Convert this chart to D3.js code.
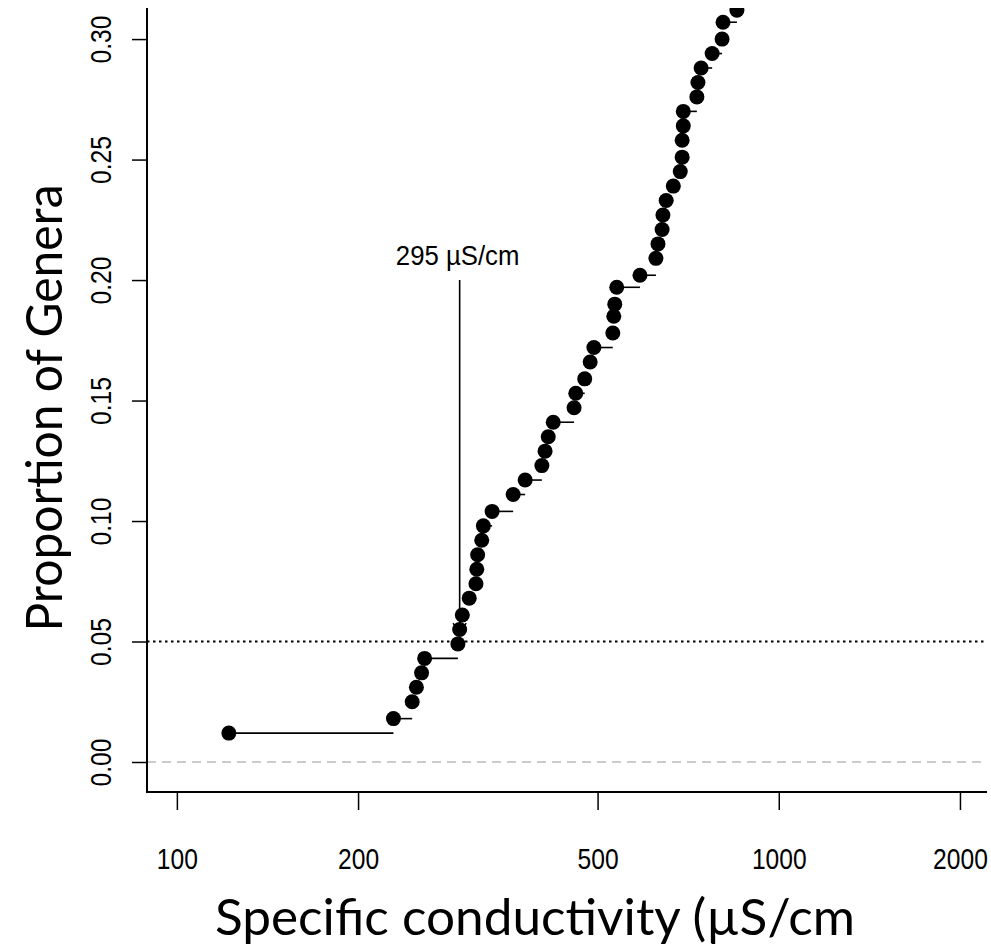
<!DOCTYPE html>
<html lang="en">
	<head>
		<meta charset="utf-8">
		<title>D3: Proportion of genera vs conductivity</title>
		<script type="text/javascript" src="https://cdn.jsdelivr.net/npm/d3@7"></script>
		<style type="text/css">
			body { margin: 0; background: #fff; }
		</style>
	</head>
	<body>
		<script type="text/javascript">

			//Width and height
			var w = 991;
			var h = 947;

			//Plot region (R style, 4% padding built into domains)
			var pLeft = 147, pRight = 987, pTop = 8, pBottom = 792;

			//Specific conductivity for each genus (uS/cm)
			var conductivity = [122, 229, 246, 250, 255, 258, 293, 295, 298, 306,
			                    314, 315, 316, 321, 323, 334, 362, 379, 404, 409,
			                    414, 422, 457, 460, 476, 486, 493, 530, 532, 534,
			                    538, 588, 625, 630, 640, 642, 650, 668, 686, 691,
			                    691, 694, 694, 731, 734, 743, 775, 805, 808, 852];

			//Cumulative proportion of genera
			var proportion = [0.012, 0.018, 0.025, 0.031, 0.037, 0.043, 0.049, 0.055, 0.061, 0.068,
			                  0.074, 0.080, 0.086, 0.092, 0.098, 0.104, 0.111, 0.117, 0.123, 0.129,
			                  0.135, 0.141, 0.147, 0.153, 0.159, 0.166, 0.172, 0.178, 0.185, 0.190,
			                  0.197, 0.202, 0.209, 0.215, 0.221, 0.227, 0.233, 0.239, 0.245, 0.251,
			                  0.258, 0.264, 0.270, 0.276, 0.282, 0.288, 0.294, 0.300, 0.307, 0.312];

			var xTicks = [100, 200, 500, 1000, 2000];
			var yTicks = [0.00, 0.05, 0.10, 0.15, 0.20, 0.25, 0.30];

			var threshold = 295;       //HC05 annotation
			var thresholdLevel = 0.05; //dotted reference line
			var arrowTop = 0.20, arrowTip = 0.053;

			var dataset = conductivity.map(function(c, i) {
				return { x: c, y: proportion[i] };
			});

			//Scales
			var xScale = d3.scaleLog()
						   .domain([89.2, 2218])
						   .range([pLeft, pRight]);

			var yScale = d3.scaleLinear()
						   .domain([-0.01245, 0.3129])
						   .range([pBottom, pTop]);

			//Create SVG element
			var svg = d3.select("body")
						.append("svg")
						.attr("width", w)
						.attr("height", h)
						.style("font-family", "'Liberation Sans', Arial, sans-serif");

			svg.append("clipPath")
			   .attr("id", "plotclip")
			   .append("rect")
			   .attr("x", pLeft)
			   .attr("y", pTop)
			   .attr("width", pRight - pLeft)
			   .attr("height", pBottom - pTop);

			var plot = svg.append("g").attr("clip-path", "url(#plotclip)");

			//Grey dashed zero line
			plot.append("line")
				.attr("x1", pLeft).attr("x2", pRight)
				.attr("y1", yScale(0)).attr("y2", yScale(0))
				.attr("stroke", "#bbbbbb")
				.attr("stroke-width", 1.5)
				.attr("stroke-dasharray", "9,6");

			//Dotted 5% line
			plot.append("line")
				.attr("x1", pLeft).attr("x2", pRight)
				.attr("y1", yScale(thresholdLevel)).attr("y2", yScale(thresholdLevel))
				.attr("stroke", "#000")
				.attr("stroke-width", 2)
				.attr("stroke-dasharray", "2.5,3.5");

			//Step segments to the next genus
			plot.selectAll("line.step")
				.data(dataset.slice(0, dataset.length - 1))
				.enter()
				.append("line")
				.attr("class", "step")
				.attr("x1", function(d) { return xScale(d.x); })
				.attr("x2", function(d, i) { return xScale(dataset[i + 1].x); })
				.attr("y1", function(d) { return yScale(d.y); })
				.attr("y2", function(d) { return yScale(d.y); })
				.attr("stroke", "#000")
				.attr("stroke-width", 1.6);

			//Annotation arrow
			var ax = xScale(threshold);
			plot.append("line")
				.attr("x1", ax).attr("x2", ax)
				.attr("y1", yScale(arrowTop)).attr("y2", yScale(arrowTip))
				.attr("stroke", "#000")
				.attr("stroke-width", 1.6);

			var tipY = yScale(arrowTip), armLen = 13, ang = Math.PI / 6;
			plot.append("path")
				.attr("d", "M" + (ax - armLen * Math.sin(ang)) + "," + (tipY - armLen * Math.cos(ang)) +
						   "L" + ax + "," + tipY +
						   "L" + (ax + armLen * Math.sin(ang)) + "," + (tipY - armLen * Math.cos(ang)))
				.attr("fill", "none")
				.attr("stroke", "#000")
				.attr("stroke-width", 1.6);

			//Points
			plot.selectAll("circle")
				.data(dataset)
				.enter()
				.append("circle")
				.attr("cx", function(d) { return xScale(d.x); })
				.attr("cy", function(d) { return yScale(d.y); })
				.attr("r", 7.5)
				.attr("fill", "#000");

			//Label for the threshold
			svg.append("text")
			   .attr("x", ax - 2)
			   .attr("y", yScale(arrowTop) - 15)
			   .attr("text-anchor", "middle")
			   .attr("font-size", "28px")
			   .attr("transform", "translate(" + (ax - 2) + ",0) scale(0.92,1) translate(" + (-(ax - 2)) + ",0)")
			   .text("295 \u00b5S/cm");

			//Box lines (left and bottom)
			svg.append("path")
			   .attr("d", "M" + pLeft + "," + pTop + "V" + pBottom + "H" + pRight)
			   .attr("fill", "none")
			   .attr("stroke", "#000")
			   .attr("stroke-width", 2);

			//Axes
			var xAxis = d3.axisBottom(xScale)
						  .tickValues(xTicks)
						  .tickSize(18)
						  .tickPadding(0)
						  .tickFormat(d3.format("d"));

			var gx = svg.append("g")
						.attr("transform", "translate(0," + pBottom + ")")
						.call(xAxis);
			gx.select(".domain").remove();
			gx.selectAll("line").attr("stroke-width", 1.5);
			gx.selectAll("text")
			  .attr("font-size", "30px")
			  .attr("font-family", "'Liberation Sans', Arial, sans-serif")
			  .attr("fill", "#000")
			  .attr("y", 0)
			  .attr("dy", 0)
			  .attr("transform", "translate(0,77) scale(0.82,1)");

			var yAxis = d3.axisLeft(yScale)
						  .tickValues(yTicks)
						  .tickSize(15)
						  .tickFormat(d3.format(".2f"));

			var gy = svg.append("g")
						.attr("transform", "translate(" + pLeft + ",0)")
						.call(yAxis);
			gy.select(".domain").remove();
			gy.selectAll("line").attr("stroke-width", 1.5);
			gy.selectAll("text")
			  .attr("font-size", "30px")
			  .attr("font-family", "'Liberation Sans', Arial, sans-serif")
			  .attr("fill", "#000")
			  .attr("text-anchor", "middle")
			  .attr("x", 0)
			  .attr("y", 0)
			  .attr("dy", 0)
			  .attr("transform", "translate(-36,0) rotate(-90) scale(0.82,1)");

			//Axis titles
			svg.append("text")
			   .attr("x", 535)
			   .attr("y", 935)
			   .attr("text-anchor", "middle")
			   .attr("font-family", "Lato, 'Open Sans', sans-serif")
			   .attr("font-size", "50px")
			   .attr("textLength", 640)
			   .attr("lengthAdjust", "spacingAndGlyphs")
			   .text("Specific conductivity (\u00b5S/cm");

			svg.append("text")
			   .attr("transform", "translate(62,408) rotate(-90)")
			   .attr("text-anchor", "middle")
			   .attr("font-family", "Lato, 'Open Sans', sans-serif")
			   .attr("font-size", "50px")
			   .attr("textLength", 447)
			   .attr("lengthAdjust", "spacingAndGlyphs")
			   .text("Proportion of Genera");

		</script>
	</body>
</html>
